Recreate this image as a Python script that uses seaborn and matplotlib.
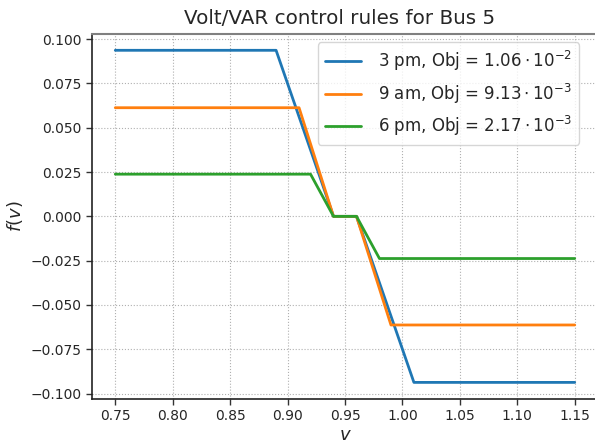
import numpy as np
import pandas as pd
import matplotlib
matplotlib.use("Agg")
import matplotlib.pyplot as plt
import seaborn as sns

# Data: breakpoints of the piecewise-linear Volt/VAR rules
labels = [r"3 pm, Obj = $1.06\cdot10^{-2}$",
          r"9 am, Obj = $9.13\cdot10^{-3}$",
          r"6 pm, Obj = $2.17\cdot10^{-3}$"]
v_start = 0.75
v_knee_low = [0.89, 0.91, 0.92]
v_dead_low = 0.94
v_dead_high = 0.96
v_knee_high = [1.01, 0.99, 0.98]
v_end = 1.15
q_max = [0.0937, 0.0613, 0.0238]

rows = []
for lab, lo, hi, q in zip(labels, v_knee_low, v_knee_high, q_max):
    vs = [v_start, lo, v_dead_low, v_dead_high, hi, v_end]
    fs = [q, q, 0.0, 0.0, -q, -q]
    for order, (x, y) in enumerate(zip(vs, fs)):
        rows.append({"v": x, "f": y, "series": lab, "order": order})
df = pd.DataFrame(rows)

sns.set_theme(style="white")
plt.rcParams['font.family'] = ['DejaVu Sans']
plt.rcParams['mathtext.fontset'] = 'dejavusans'

fig = plt.figure(figsize=(5.95, 4.43), dpi=100)
ax = fig.add_axes([92.3/595, 44/443, (597.7-92.3)/595, (399-33.7)/443])

palette = ["#1f77b4", "#ff7f0e", "#2ca02c"]
sns.lineplot(data=df, x="v", y="f", hue="series", hue_order=labels,
             palette=palette, sort=False, estimator=None, units="series",
             linewidth=2, ax=ax)

ax.margins(x=0.05, y=0.05)
ax.set_xticks(np.arange(0.75, 1.151, 0.05))
ax.set_yticks(np.arange(-0.1, 0.1001, 0.025))
ax.tick_params(axis='both', which='both', labelsize=10, length=4, width=1,
               color='#333333', labelcolor='#262626', left=True, bottom=True)
ax.grid(True, linestyle=':', color='#b0b0b0', linewidth=0.8)

for side in ['left', 'bottom']:
    ax.spines[side].set_color('#222222')
    ax.spines[side].set_linewidth(1.2)
for side in ['top', 'right']:
    ax.spines[side].set_color('#808080')
    ax.spines[side].set_linewidth(1.5)

ax.set_xlabel(r"$v$", fontsize=13, labelpad=2)
ax.set_ylabel(r"$f(v)$", fontsize=13)
ax.set_title("Volt/VAR control rules for Bus 5", fontsize=14.3, x=0.49, pad=7)

leg = ax.legend(loc="upper left", bbox_to_anchor=((318-92.3)/505.4, (399-42.3)/365.3),
                fontsize=12, frameon=True, borderaxespad=0,
                handlelength=2.2, handletextpad=1.0)
leg.get_frame().set_edgecolor('#cccccc')

fig.savefig("out.png", dpi=100)
